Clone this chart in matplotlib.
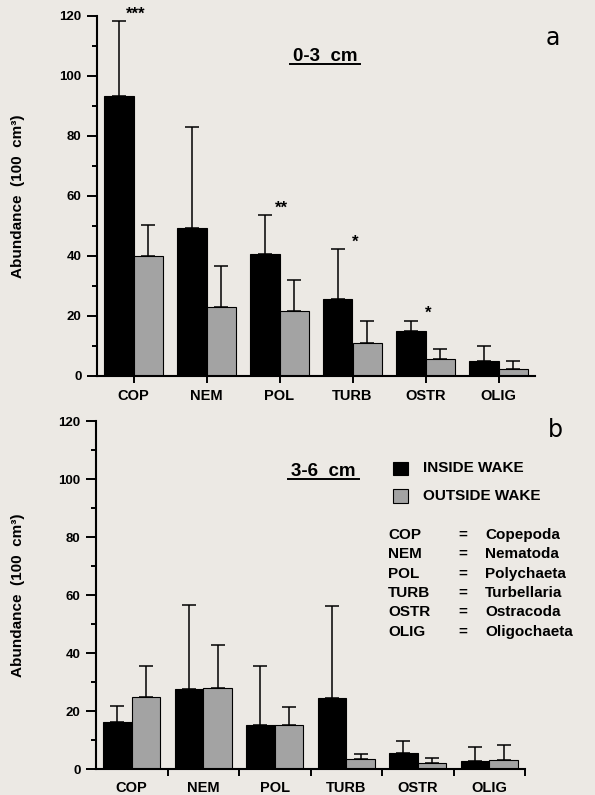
import matplotlib
matplotlib.use("Agg")
import matplotlib.pyplot as plt
from matplotlib.lines import Line2D
from matplotlib.patches import Rectangle
import numpy as np

W, H = 595, 795
PAPER = "#ece9e4"
GREY = "#a3a3a3"

cats = ["COP", "NEM", "POL", "TURB", "OSTR", "OLIG"]

# 0-3 cm layer
top_inside = [93.3, 49.2, 40.8, 25.7, 14.9, 5.1]
top_inside_err = [25.0, 33.8, 12.8, 16.6, 3.5, 4.9]
top_outside = [40.0, 22.9, 21.7, 11.0, 5.6, 2.3]
top_outside_err = [10.2, 13.8, 10.3, 7.4, 3.3, 2.8]
top_stars = ["***", "", "**", "*", "*", ""]
top_star_y = [120.5, 0, 56.0, 44.5, 21.0, 0]

# 3-6 cm layer
bot_inside = [16.3, 27.6, 15.3, 24.4, 5.5, 2.6]
bot_inside_err = [5.5, 28.8, 20.1, 31.7, 4.2, 5.1]
bot_outside = [24.7, 28.0, 15.3, 3.6, 2.2, 3.2]
bot_outside_err = [10.7, 14.6, 6.1, 1.7, 1.5, 5.0]

taxa = ["Copepoda", "Nematoda", "Polychaeta", "Turbellaria", "Ostracoda", "Oligochaeta"]

plt.rcParams["font.family"] = ["Liberation Sans", "DejaVu Sans"]
plt.rcParams["font.weight"] = "bold"

fig = plt.figure(figsize=(W / 100, H / 100), dpi=100, facecolor=PAPER)


def fx(px):
    return px / W


def fy(py):
    return 1 - py / H


def panel(rect, inside, inside_err, outside, outside_err, centre_ticks):
    ax = fig.add_axes(rect)
    ax.set_facecolor("none")
    x = np.arange(len(cats)) + 0.5
    w = 0.4
    ax.bar(x - w / 2, inside, w, color="black", edgecolor="black", linewidth=0.8, zorder=2)
    ax.bar(x + w / 2, outside, w, color=GREY, edgecolor="black", linewidth=0.8, zorder=2)
    zeros = [0] * len(cats)
    ax.errorbar(x - w / 2, inside, yerr=[zeros, inside_err], fmt="none", ecolor="black",
                elinewidth=1.1, capsize=5, capthick=1.1, zorder=3)
    ax.errorbar(x + w / 2, outside, yerr=[zeros, outside_err], fmt="none", ecolor="black",
                elinewidth=1.1, capsize=5, capthick=1.1, zorder=3)
    ax.set_xlim(0, len(cats))
    ax.set_ylim(0, 120)
    ax.set_yticks(np.arange(0, 121, 20))
    ax.set_yticks(np.arange(10, 120, 20), minor=True)
    ax.tick_params(axis="y", which="major", length=7, width=1.4, labelsize=9.5, pad=4)
    ax.tick_params(axis="y", which="minor", length=3.5, width=1.4)
    if centre_ticks:
        # top panel: ticks under each pair
        ax.set_xticks(x)
        ax.set_xticklabels(cats)
        ax.tick_params(axis="x", which="major", length=5, width=1.4, labelsize=10.5, pad=4)
    else:
        # bottom panel: ticks between pairs, labels centred
        ax.set_xticks(np.arange(1, len(cats) + 1))
        ax.set_xticklabels([])
        ax.set_xticks(x, minor=True)
        ax.set_xticklabels(cats, minor=True)
        ax.tick_params(axis="x", which="major", length=5, width=1.4)
        ax.tick_params(axis="x", which="minor", length=0, labelsize=10.5, pad=9)
    for lab in ax.get_xticklabels(which="both") + ax.get_yticklabels():
        lab.set_fontweight("bold")
    for s in ["top", "right"]:
        ax.spines[s].set_visible(False)
    for s in ["left", "bottom"]:
        ax.spines[s].set_linewidth(1.5)
    ax.set_ylabel("Abundance  (100  cm³)", fontsize=11, fontweight="bold")
    ax.yaxis.set_label_coords(-0.165, 0.5)
    return ax, x


# top panel
ax1, x1 = panel([fx(97), fy(376), (535 - 97) / W, (376 - 16) / H],
                top_inside, top_inside_err, top_outside, top_outside_err, True)
for xi, s, sy in zip(x1, top_stars, top_star_y):
    if s:
        ax1.text(xi + 0.03, sy, s, ha="center", va="center", fontsize=12, fontweight="bold")

# bottom panel
ax2, x2 = panel([fx(96), fy(769), (525 - 96) / W, (769 - 421) / H],
                bot_inside, bot_inside_err, bot_outside, bot_outside_err, False)

# panel titles with underline
for label, cx, base, x0, x1_ in [("0-3  cm", 325, 61, 290, 360), ("3-6  cm", 323, 476, 288, 359)]:
    fig.text(fx(cx), fy(base), label, ha="center", va="baseline", fontsize=13.5, fontweight="bold")
    fig.add_artist(Line2D([fx(x0), fx(x1_)], [fy(base + 3), fy(base + 3)], color="black", lw=1.4))

fig.text(fx(553), fy(38), "a", ha="center", va="center", fontsize=17, fontweight="normal",
         family="DejaVu Sans")
fig.text(fx(555), fy(430), "b", ha="center", va="center", fontsize=17, fontweight="normal",
         family="DejaVu Sans")

# legend
fig.add_artist(Rectangle((fx(393), fy(475)), 15 / W, 13 / H, facecolor="black",
                         edgecolor="black", lw=0.8, transform=fig.transFigure))
fig.add_artist(Rectangle((fx(393), fy(503)), 15 / W, 14 / H, facecolor=GREY,
                         edgecolor="black", lw=0.8, transform=fig.transFigure))
fig.text(fx(423), fy(468), "INSIDE WAKE", ha="left", va="center", fontsize=11, fontweight="bold")
fig.text(fx(423), fy(496), "OUTSIDE WAKE", ha="left", va="center", fontsize=11, fontweight="bold")

# abbreviation key
key_y = [535, 554, 574, 593, 612, 632]
for c, t, ky in zip(cats, taxa, key_y):
    fig.text(fx(388), fy(ky), c, ha="left", va="center", fontsize=11, fontweight="bold")
    fig.text(fx(463), fy(ky), "=", ha="center", va="center", fontsize=11, fontweight="bold")
    fig.text(fx(485), fy(ky), t, ha="left", va="center", fontsize=11, fontweight="bold")

fig.savefig("out.png", dpi=100, facecolor=PAPER)
